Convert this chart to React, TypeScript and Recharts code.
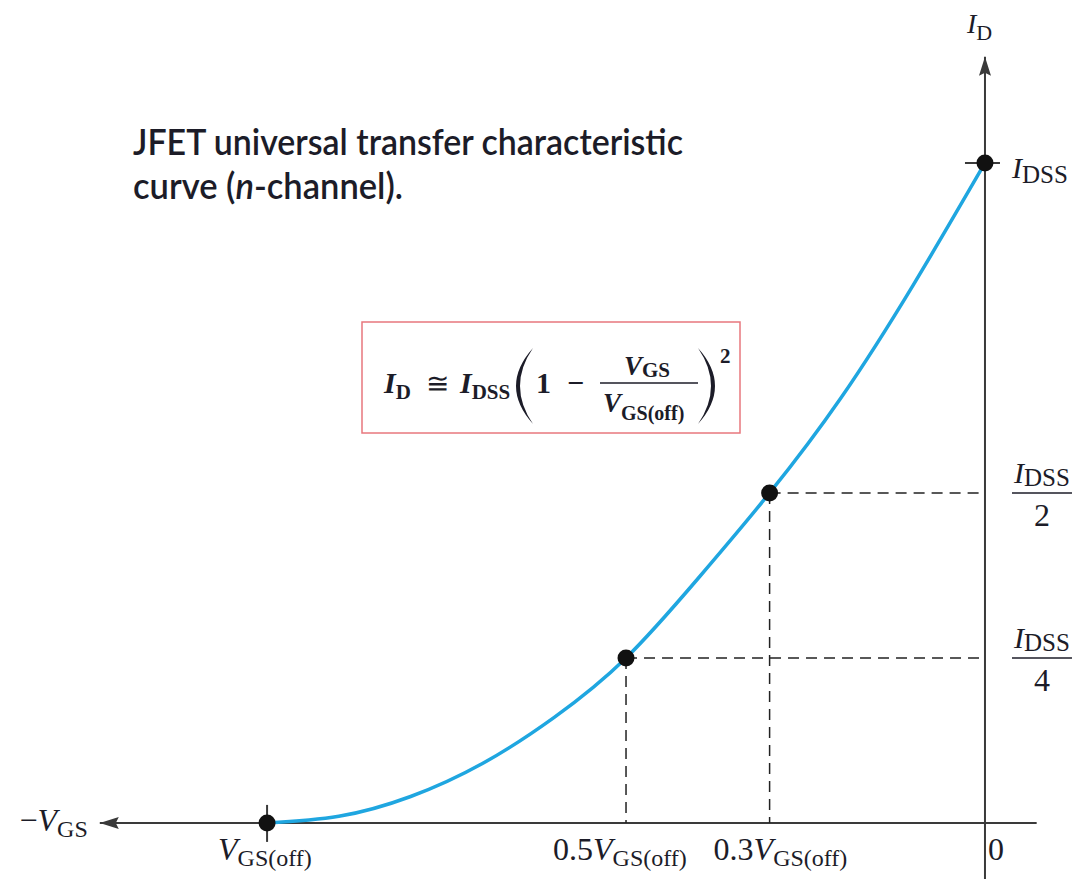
import React from "react";
import {
  ComposedChart,
  Line,
  Scatter,
  XAxis,
  YAxis,
  ReferenceLine,
  ReferenceDot,
} from "recharts";

// V_GS in units of |V_GS(off)| (negative to the left), I_D in units of I_DSS
const vgs = [-1, -0.9, -0.8, -0.7, -0.6, -0.5, -0.4, -0.3, -0.2, -0.1, 0];
const idRatio = [0, 0.01, 0.04, 0.09, 0.16, 0.25, 0.37, 0.5, 0.645, 0.815, 1];

// marked points on the curve
const markVgs = [-1, -0.5, -0.3, 0];
const markId = [0, 0.25, 0.5, 1];

// labels under the V_GS axis
const xTickVgs = [-1, -0.5, -0.3];
const xTickCoef = ["", "0.5", "0.3"];
const xTickShift = [-49, -73, -56];

// labels right of the I_D axis
const yTickId = [1, 0.5, 0.25];
const yTickDiv = ["", "2", "4"];

const W = 1074;
const H = 879;
const X_DOMAIN = [-1.372, 0.124];
const Y_DOMAIN = [-0.085, 1.247];
const X_AXIS_END = [-1.233, 0.072];
const Y_AXIS_TOP = 1.161;

const SERIF = "'Liberation Serif', 'Times New Roman', serif";
const SANS = "Lato, 'Open Sans', 'DejaVu Sans Condensed', sans-serif";
const INK = "#1c1c28";
const AXIS = "#3a3a3a";
const CURVE = "#1fa6e0";

const curve = vgs.map((v, i) => ({ vgs: v, id: idRatio[i] }));
const marks = markVgs.map((v, i) => ({ vgs: v, id: markId[i] }));

const LeftArrow = (p: any) => (
  <g>
    <polygon
      points={`${p.cx},${p.cy} ${p.cx + 19},${p.cy - 6} ${p.cx + 16},${p.cy} ${p.cx + 19},${p.cy + 6}`}
      fill={AXIS}
    />
    <text x={p.cx - 12} y={p.cy + 8} textAnchor="end" fontFamily={SERIF} fill={INK} fontSize={32}>
      <tspan>−</tspan>
      <tspan fontStyle="italic">V</tspan>
      <tspan fontSize={24} dy={6}>GS</tspan>
    </text>
  </g>
);

const UpArrow = (p: any) => (
  <g>
    <polygon
      points={`${p.cx},${p.cy} ${p.cx - 6},${p.cy + 19} ${p.cx},${p.cy + 16} ${p.cx + 6},${p.cy + 19}`}
      fill={AXIS}
    />
    <text x={p.cx - 18} y={p.cy - 24} fontFamily={SERIF} fill={INK} fontSize={28}>
      <tspan fontStyle="italic">I</tspan>
      <tspan fontSize={22} dy={7}>D</tspan>
    </text>
  </g>
);

const XTickLabel = (p: any) => (
  <g>
    {p.cross && (
      <line x1={p.cx} x2={p.cx} y1={p.cy - 18} y2={p.cy + 19} stroke={AXIS} strokeWidth={2} />
    )}
    <text x={p.cx + p.shift} y={p.cy + 37} fontFamily={SERIF} fill={INK} fontSize={32}>
      {p.coef && <tspan>{p.coef}</tspan>}
      <tspan fontStyle="italic">V</tspan>
      <tspan fontSize={24} dy={6}>GS(off)</tspan>
    </text>
  </g>
);

const YTickLabel = (p: any) => {
  if (!p.div) {
    return (
      <g>
        <line x1={p.cx - 20} x2={p.cx + 15} y1={p.cy} y2={p.cy} stroke={AXIS} strokeWidth={2} />
        <text x={p.cx + 27} y={p.cy + 15} fontFamily={SERIF} fill={INK} fontSize={30}>
          <tspan fontStyle="italic">I</tspan>
          <tspan fontSize={25} dy={5}>DSS</tspan>
        </text>
      </g>
    );
  }
  return (
    <g fontFamily={SERIF} fill={INK}>
      <text x={p.cx + 57} y={p.cy - 10} textAnchor="middle" fontSize={30}>
        <tspan fontStyle="italic">I</tspan>
        <tspan fontSize={25} dy={3}>DSS</tspan>
      </text>
      <line x1={p.cx + 27} x2={p.cx + 87} y1={p.cy} y2={p.cy} stroke={INK} strokeWidth={1.5} />
      <text x={p.cx + 57} y={p.cy + 33} textAnchor="middle" fontSize={32}>
        {p.div}
      </text>
    </g>
  );
};

const Origin = (p: any) => (
  <text x={p.cx + 3} y={p.cy + 37} fontFamily={SERIF} fill={INK} fontSize={32}>
    0
  </text>
);

const Dot = (p: any) => <circle cx={p.cx} cy={p.cy} r={8.5} fill="#111" />;

// equation box and caption
const Notes = () => (
  <svg
    width={W}
    height={H}
    style={{ position: "absolute", left: 0, top: 0, pointerEvents: "none" }}
  >
    <g fontFamily={SANS} fill={INK} fontSize={37} fontWeight={600}>
      <text x={133} y={155} textLength={550} lengthAdjust="spacingAndGlyphs">
        JFET universal transfer characteristic
      </text>
      <text x={133} y={199} textLength={270} lengthAdjust="spacingAndGlyphs">
        curve (<tspan fontStyle="italic">n</tspan>-channel).
      </text>
    </g>
    <g transform="translate(362,322)" fontFamily={SERIF} fill={INK} fontWeight="bold">
      <rect x={0} y={0} width={378} height={111} fill="#fff" stroke="#e8777d" strokeWidth={1.5} />
      <text x={22} y={71} fontSize={30}>
        <tspan fontStyle="italic">I</tspan>
        <tspan fontSize={21} dy={6}>D</tspan>
      </text>
      <text x={64} y={71} fontSize={28} fontWeight="normal">≅</text>
      <text x={98} y={71} fontSize={30}>
        <tspan fontStyle="italic">I</tspan>
        <tspan fontSize={21} dy={6}>DSS</tspan>
      </text>
      <path d="M171,26 Q137,64 171,102 Q145,64 171,26 Z" />
      <text x={174} y={71} fontSize={30}>1</text>
      <text x={205} y={71} fontSize={30}>−</text>
      <text x={262} y={53} fontSize={27}>
        <tspan fontStyle="italic">V</tspan>
        <tspan fontSize={21} dy={2}>GS</tspan>
      </text>
      <line x1={238} x2={336} y1={61} y2={61} stroke={INK} strokeWidth={1.5} />
      <text x={241} y={90} fontSize={27}>
        <tspan fontStyle="italic">V</tspan>
        <tspan fontSize={20} dy={8}>GS(off)</tspan>
      </text>
      <path d="M336,26 Q370,64 336,102 Q362,64 336,26 Z" />
      <text x={358} y={41} fontSize={21}>2</text>
    </g>
  </svg>
);

export default function App() {
  return (
    <div style={{ position: "absolute", left: 0, top: 0, width: W, height: H, background: "#fff" }}>
      <ComposedChart width={W} height={H} margin={{ top: 0, right: 0, bottom: 0, left: 0 }}>
        <XAxis type="number" dataKey="vgs" domain={X_DOMAIN} allowDataOverflow hide />
        <YAxis type="number" dataKey="id" domain={Y_DOMAIN} allowDataOverflow hide />

        {/* axes */}
        <ReferenceLine
          segment={[{ x: X_AXIS_END[0], y: 0 }, { x: X_AXIS_END[1], y: 0 }]}
          stroke={AXIS}
          strokeWidth={2}
        />
        <ReferenceLine
          segment={[{ x: 0, y: Y_DOMAIN[0] }, { x: 0, y: Y_AXIS_TOP }]}
          stroke={AXIS}
          strokeWidth={2}
        />

        {/* dashed guides from the intermediate points */}
        {marks
          .filter((m) => m.id > 0 && m.id < 1)
          .map((m) => (
            <ReferenceLine
              key={`h${m.vgs}`}
              segment={[{ x: m.vgs, y: m.id }, { x: 0, y: m.id }]}
              stroke="#222"
              strokeWidth={1.5}
              strokeDasharray="11 7"
            />
          ))}
        {marks
          .filter((m) => m.id > 0 && m.id < 1)
          .map((m) => (
            <ReferenceLine
              key={`v${m.vgs}`}
              segment={[{ x: m.vgs, y: m.id }, { x: m.vgs, y: 0 }]}
              stroke="#222"
              strokeWidth={1.5}
              strokeDasharray="11 7"
            />
          ))}

        <ReferenceDot x={X_AXIS_END[0]} y={0} r={0} shape={(p: any) => <LeftArrow {...p} />} />
        <ReferenceDot x={0} y={Y_AXIS_TOP} r={0} shape={(p: any) => <UpArrow {...p} />} />
        <ReferenceDot x={0} y={0} r={0} shape={(p: any) => <Origin {...p} />} />

        {xTickVgs.map((v, i) => (
          <ReferenceDot
            key={`xt${i}`}
            x={v}
            y={0}
            r={0}
            shape={(p: any) => (
              <XTickLabel {...p} coef={xTickCoef[i]} shift={xTickShift[i]} cross={i === 0} />
            )}
          />
        ))}
        {yTickId.map((v, i) => (
          <ReferenceDot
            key={`yt${i}`}
            x={0}
            y={v}
            r={0}
            shape={(p: any) => <YTickLabel {...p} div={yTickDiv[i]} />}
          />
        ))}

        <Line
          data={curve}
          dataKey="id"
          type="natural"
          stroke={CURVE}
          strokeWidth={3.5}
          dot={false}
          activeDot={false}
          isAnimationActive={false}
        />
        <Scatter data={marks} dataKey="id" shape={(p: any) => <Dot {...p} />} isAnimationActive={false} />
      </ComposedChart>
      <Notes />
    </div>
  );
}
